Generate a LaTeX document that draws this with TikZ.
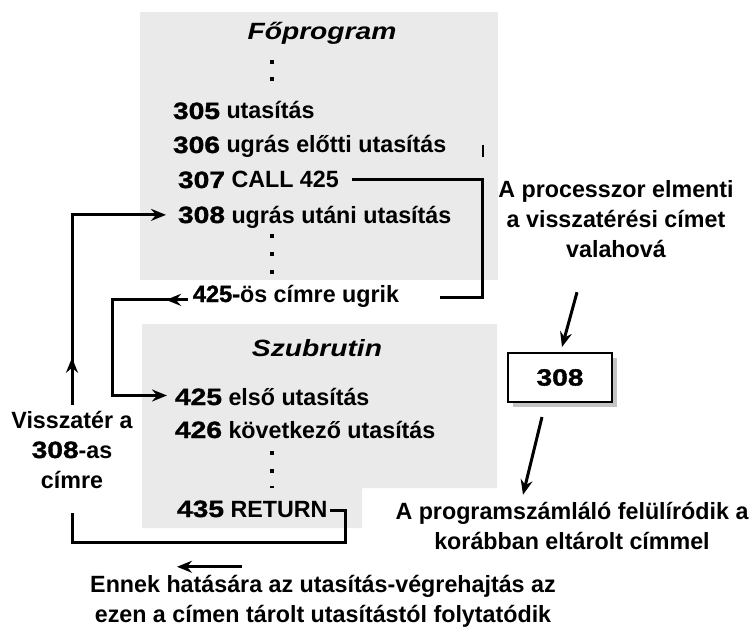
\documentclass[tikz,border=0pt]{standalone}
\usepackage{fontspec}
\setmainfont{Liberation Sans}[FakeStretch=0.99]
\newfontfamily\numfont{Liberation Sans}[FakeStretch=1.2, FakeBold=1.5]
\newfontfamily\heavyfont{Liberation Sans}[FakeBold=1.5]
\newfontfamily\headfont{Liberation Sans}[FakeStretch=1.2]
\usetikzlibrary{arrows.meta, decorations.markings, shadows}
\newcommand\dg[1]{{\numfont #1}}
\newcommand\hv[1]{{\heavyfont #1}}
\definecolor{panelgray}{RGB}{234,234,234}
\definecolor{shadowgray}{RGB}{196,196,196}

\begin{document}
\begin{tikzpicture}[x=1pt, y=-1pt,
  tipstyle/.tip={Stealth[length=15pt, width=12pt, inset=5pt]},
  wire/.style={line width=3pt, line join=miter},
  txt/.style={font=\fontsize{23.5}{30}\selectfont\bfseries, inner sep=0pt, outer sep=0pt, anchor=base west},
  head/.style={font=\fontsize{23.5}{30}\selectfont\headfont\bfseries\itshape, inner sep=0pt, anchor=base},
  note/.style={font=\fontsize{23.5}{30}\selectfont\bfseries, align=center, inner sep=0pt, outer sep=0pt, anchor=base},
  regbox/.style={draw, line width=2.6pt, fill=white, minimum width=104pt, minimum height=49pt,
    inner sep=0pt, outer sep=0pt, font=\fontsize{23.5}{30}\selectfont\bfseries,
    drop shadow={shadow xshift=5pt, shadow yshift=-5pt, fill=shadowgray, opacity=1}},
  midtip/.style={postaction={decorate}, decoration={markings, mark=at position #1 with {\arrow{tipstyle}}}},
  dotmark/.style={fill=black}
]
\useasboundingbox (0,0) rectangle (752,639);

% grey panels of the main program and of the subroutine
\fill[panelgray] (140,12) rectangle (498,280);
\fill[panelgray] (142,324) -- (497,324) -- (497,488) -- (362,488) -- (362,528) -- (142,528) -- cycle;

% main program
\node[head] (maintitle) at (322,40) {Főprogram};
\foreach \y in {60,77} \fill[dotmark] (270,\y) rectangle ++(4,4);
\node[txt] (l305) at (173,119) {\dg{305} utasítás};
\node[txt] (l306) at (173,153) {\dg{306} ugrás előtti utasítás};
\node[txt] (l307) at (178,188) {\dg{307} CALL 425};
\node[txt] (l308) at (178,223) {\dg{308} ugrás utáni utasítás};
\foreach \y in {234,252,270} \fill[dotmark] (270,\y) rectangle ++(4,4);
\draw[line width=1.8pt] (483,145) -- (483,157);

% jump label
\node[txt] (jump) at (193,302) {\hv{425-}ös címre ugrik};

% subroutine
\node[head] (subtitle) at (317,356) {Szubrutin};
\node[txt] (l425) at (175,405) {\dg{425} első utasítás};
\node[txt] (l426) at (175,438) {\dg{426} következő utasítás};
\foreach \y in {451,469} \fill[dotmark] (270,\y) rectangle ++(4,4);
\fill[dotmark] (270,486) rectangle ++(4,2);
\node[txt] (l435) at (177,517) {\dg{435} RETURN};

% call: out of 307, round to the jump label
\draw[wire] ([xshift=13pt]l307.east) -| ([xshift=83pt, yshift=-2pt]jump.east) -- ([xshift=41pt, yshift=-2pt]jump.east);
\draw[wire, -{tipstyle}, midtip=22pt]
  ([xshift=-5pt, yshift=-4pt]jump.west) -| ([xshift=-63pt, yshift=1pt]l425.west) -- ([xshift=-8pt, yshift=1pt]l425.west);

% return: from RETURN back to 308
\node[note] (back) at (72,488) {Visszatér a\\\dg{308}-as\\címre};
\draw[wire] ([xshift=3pt, yshift=-2pt]l435.east) -| ([xshift=18pt, yshift=-34pt]l435.east) -| ([yshift=-25pt]back.south);
\draw[wire, -{tipstyle}, midtip=47pt]
  ([yshift=6pt]back.north) |- ([xshift=-12pt, yshift=2pt]l308.west);

% saved return address
\node[note] (save) at (616,257) {A processzor elmenti\\a visszatérési címet\\valahová};
\node[regbox] (reg) at (560,377.5) {\dg{308}};
\node[note] (pcnote) at (572,549) {A programszámláló felülíródik a\\korábban eltárolt címmel};
\draw[wire, -{tipstyle}] ([xshift=-39pt, yshift=-35pt]save.south) -- ([xshift=2pt, yshift=6pt]reg.north);
\draw[wire, -{tipstyle}] ([xshift=-18pt, yshift=-15pt]reg.south) -- ([xshift=-49pt, yshift=7pt]pcnote.north);

% effect of the return
\node[note] (effect) at (323,622) {Ennek hatására az utasítás-végrehajtás az\\ezen a címen tárolt utasítástól folytatódik};
\draw[wire, -{tipstyle}] ([xshift=-81pt, yshift=8pt]effect.north) -- ([xshift=-146pt, yshift=8pt]effect.north);
\end{tikzpicture}
\end{document}
